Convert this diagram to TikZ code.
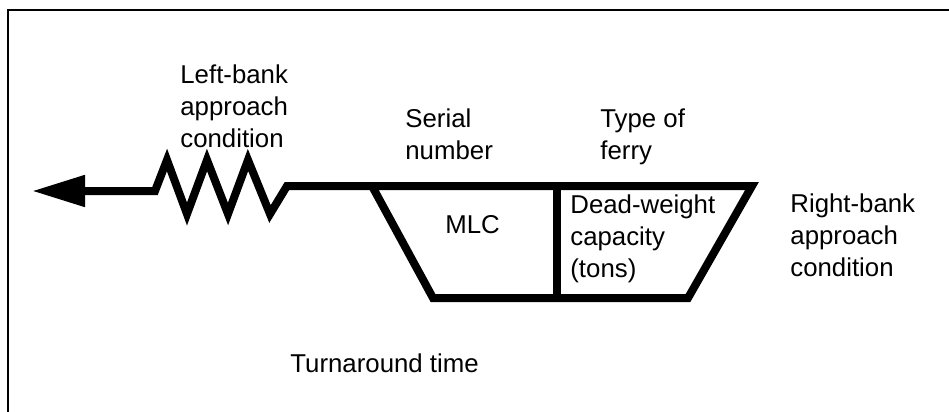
\documentclass[tikz,border=0pt]{standalone}
\usepackage{fontspec}
\setmainfont{Liberation Sans}
\usepackage{tikz}
\usetikzlibrary{arrows.meta, positioning}

\begin{document}
\begin{tikzpicture}[
  x=0.5pt, y=-0.5pt,
  heavy/.style={line width=4pt, line join=miter},
  frame/.style={line width=1pt},
  txt/.style={font=\fontsize{12.9}{16}\selectfont, align=left,
    anchor=base west, inner sep=0pt}
]
\useasboundingbox (0,0) rectangle (949,412);
\draw[frame] (8,412) |- (949,10);

% outline points
\coordinate (tip) at (32,191);
\coordinate (TL) at (372,186);
\coordinate (BL) at (433,298);
\coordinate (BR) at (688,298);
\coordinate (TR) at (752,186);
\coordinate (DT) at (557,186);
\coordinate (DB) at (557,298);

\draw[heavy, {Triangle[length=26.5pt, width=15pt]}-]
  (tip) -- (155,191) -- (167,160) -- (187,214) -- (207,160)
  -- (228,214) -- (248,160) -- (270,214) -- (287,186) -- (TL);
\draw[heavy] (TL) -- (TR) -- (BR) -- (BL) -- cycle;
\draw[heavy] (DT) -- (DB);

% base = last line of each label
\node[txt] (left) at (180,147) {Left-bank\\approach\\condition};
\node[txt] (serial) at (405,159) {Serial\\number};
\node[txt] (ferry) at (600,159) {Type of\\ferry};
\node[txt] (mlc) at (445,233) {MLC};
\node[txt] (dwc) at (570,277) {Dead-weight\\capacity\\(tons)};
\node[txt] (right) at (790,276) {Right-bank\\approach\\condition};
\node[txt] (turn) at (290,372) {Turnaround time};
\end{tikzpicture}
\end{document}
